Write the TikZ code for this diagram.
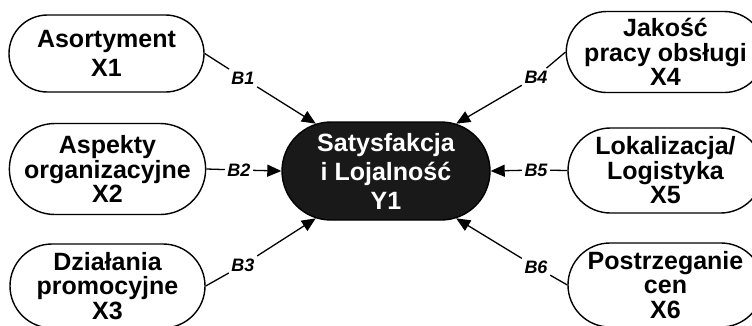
\documentclass[tikz,border=0pt]{standalone}
\usepackage{fontspec}
\setmainfont{Liberation Sans}
\usetikzlibrary{shapes.misc,arrows.meta}
\begin{document}
\begin{tikzpicture}[x=1pt,y=-1pt,
  factor/.style={rounded rectangle, draw=black, line width=1.4pt, fill=white,
    minimum width=195pt, inner sep=0pt, align=center,
    font=\fontsize{25}{24.5}\selectfont\bfseries},
  central/.style={rounded rectangle, draw=black, line width=1.4pt, fill=black!90,
    text=white, minimum width=208pt, minimum height=98pt, inner sep=0pt,
    align=center, font=\fontsize{25}{29}\selectfont\bfseries},
  coef/.style={inner sep=2.5pt, font=\fontsize{18}{20}\selectfont\bfseries\itshape},
  link/.style={line width=1.3pt},
  arr/.style={link, -{Triangle[length=14pt,width=12pt]}}
]
\path[use as bounding box, clip] (0,0) rectangle (752,325);

\node[factor, minimum height=77pt] (X1) at (106.5,53.5) {Asortyment\\[4pt]X1};
\node[factor, minimum height=91pt] (X2) at (107.5,169) {Aspekty\\organizacyjne\\X2};
\node[factor, minimum height=84pt] (X3) at (107.5,286) {Działania\\promocyjne\\X3};
\node[factor, minimum height=81pt] (X4) at (665.5,52) {Jakość\\pracy obsługi\\X4};
\node[factor, minimum height=85pt] (X5) at (665.5,170.5) {Lokalizacja/\\Logistyka\\X5};
\node[factor, minimum height=84pt] (X6) at (665.5,285) {Postrzeganie\\cen\\X6};
\node[central] (C) at (386,171) {Satysfakcja\\i Lojalność\\Y1};

\node[coef] (b1) at (243,78) {B1};
\node[coef] (b2) at (239,170) {B2};
\node[coef] (b3) at (243,265) {B3};
\node[coef] (b4) at (536,77) {B4};
\node[coef] (b5) at (536,170) {B5};
\node[coef] (b6) at (536,267) {B6};

\draw[link] (X1.east) -- (b1);
\draw[arr] (b1) -- (C.146);
\draw[link] (X2.east) -- (b2);
\draw[arr] (b2) -- (C.west);
\draw[link] (X3.east) -- (b3);
\draw[arr] (b3) -- (C.214);
\draw[link] (X4.west) -- (b4);
\draw[arr] (b4) -- (C.34);
\draw[link] (X5.west) -- (b5);
\draw[arr] (b5) -- (C.east);
\draw[link] (X6.west) -- (b6);
\draw[arr] (b6) -- (C.-34);
\end{tikzpicture}
\end{document}
